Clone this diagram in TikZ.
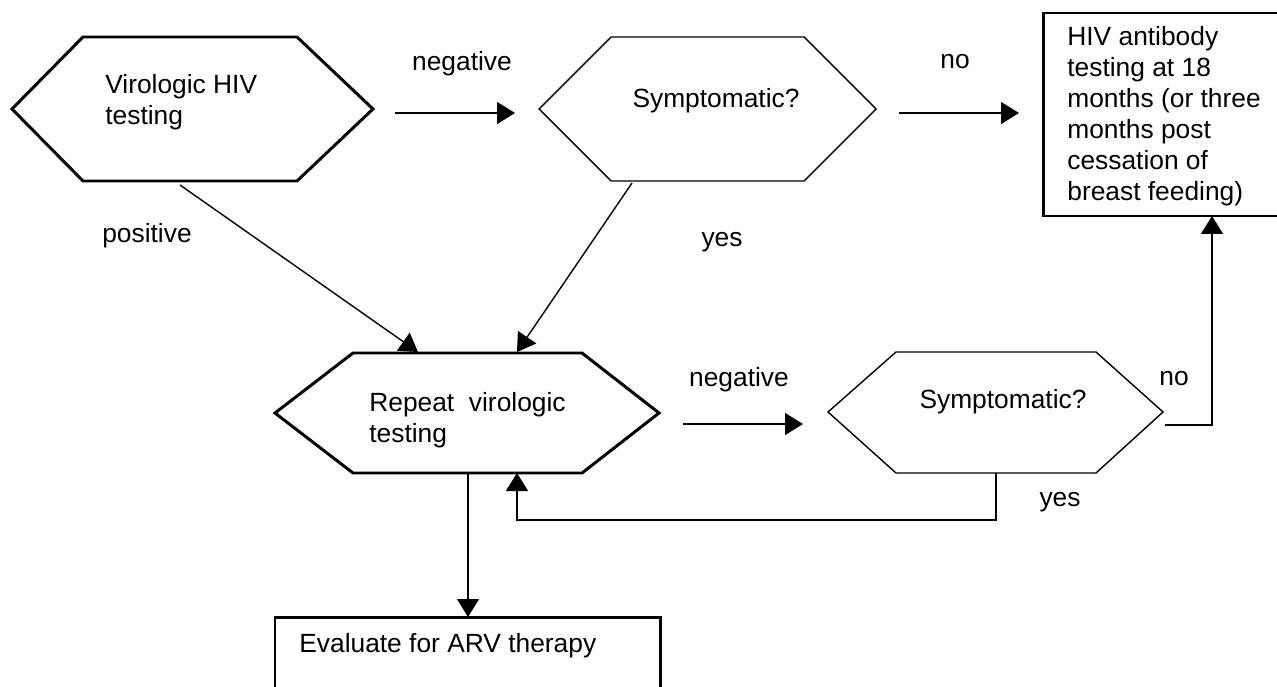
\documentclass[tikz,border=0pt]{standalone}
\usepackage{fontspec}
\setmainfont{Liberation Sans}
\usetikzlibrary{arrows.meta}
\tikzset{
  bold line/.style={line width=1.7pt,line join=miter},
  thin line/.style={line width=0.8pt,line join=miter},
  flow/.style={line width=0.8pt,-{Triangle[length=0.36cm,width=0.44cm]}},
  txt/.style={inner sep=0pt,anchor=base west,align=left,font=\fontsize{15pt}{17.6pt}\selectfont},
  lbl/.style={inner sep=0pt,anchor=base,font=\fontsize{15pt}{17.6pt}\selectfont},
}
\begin{document}
\begin{tikzpicture}[x=0.02cm,y=-0.02cm]
 \useasboundingbox (0,0) rectangle (1277,686);
 \clip (0,0) rectangle (1277,686);
  % Define the hexagons
  \draw[bold line] (12,109) -- (83,37) -- (297,37) -- (373,109) -- (297,181) -- (83,181) -- cycle;
  \draw[thin line] (539,109) -- (611,37) -- (804,37) -- (876,109) -- (804,181) -- (611,181) -- cycle;
  \draw[bold line] (275,413) -- (353,353) -- (582,353) -- (659,413) -- (582,473) -- (353,473) -- cycle;
  \draw[thin line] (828,412) -- (896,352) -- (1096,352) -- (1163,412) -- (1096,473) -- (896,473) -- cycle;
  % Define the boxes
  \draw[bold line] (1043,13) rectangle (1295,216);
  \draw[bold line] (275,617) rectangle (660,705);
  % Texts in the shapes (base = last line)
  \node[txt] (virologic) at (105,124) {Virologic HIV\\testing};
  \node[lbl] (symptomA) at (716,108) {Symptomatic?};
  \node[txt] (antibody) at (1067,200) {HIV antibody\\testing at 18\\months (or three\\months post\\cessation of\\breast feeding)};
  \node[txt] (repeat) at (369,442) {Repeat\ \ virologic\\testing};
  \node[lbl] (symptomB) at (1003,408) {Symptomatic?};
  \node[txt] (evaluate) at (299,652) {Evaluate for ARV therapy};
  % Connector ends
  \coordinate (negA1) at (395,113);  \coordinate (negA2) at (515,113);
  \coordinate (noA1) at (899,113);   \coordinate (noA2) at (1019,113);
  \coordinate (posA1) at (180,185);  \coordinate (posA2) at (418,352);
  \coordinate (yesA1) at (632,183);  \coordinate (yesA2) at (517,352);
  \coordinate (negB1) at (683,424);  \coordinate (negB2) at (803,424);
  \coordinate (noB1) at (1165,425);  \coordinate (noB2) at (1212,216);
  \coordinate (yesB1) at (996,473);  \coordinate (yesB2) at (517,473);
  \coordinate (down1) at (468,473);  \coordinate (down2) at (468,617);
  % Draw the connectors
  \draw[flow] (negA1) -- (negA2);
  \draw[flow] (noA1) -- (noA2);
  \draw[flow] (posA1) -- (posA2);
  \draw[flow] (yesA1) -- (yesA2);
  \draw[flow] (negB1) -- (negB2);
  \draw[flow] (noB1) -| (noB2);
  \draw[flow] (yesB1) -- (996,520) -| (yesB2);
  \draw[flow] (down1) -- (down2);
  % Connector labels
  \node[lbl] (negLA) at (462,71) {negative};
  \node[lbl] (noLA) at (955,69) {no};
  \node[lbl] (posL) at (147,242) {positive};
  \node[lbl] (yesLA) at (722,246) {yes};
  \node[lbl] (negLB) at (739,386) {negative};
  \node[lbl] (noLB) at (1174,385) {no};
  \node[lbl] (yesLB) at (1060,506) {yes};
\end{tikzpicture}
\end{document}
